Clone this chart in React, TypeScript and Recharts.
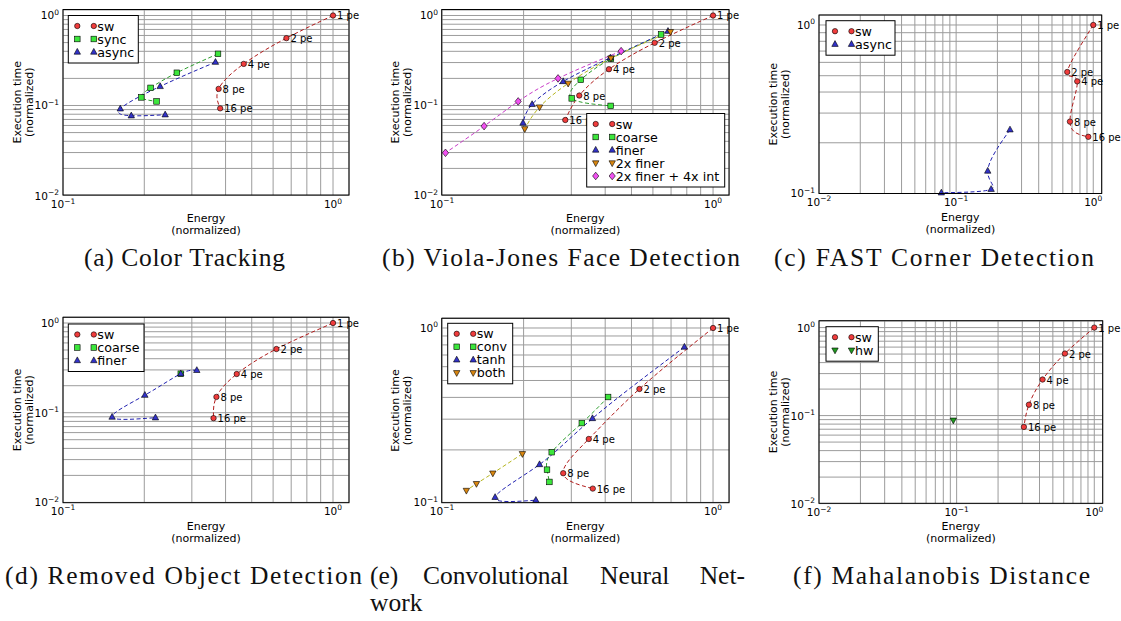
import React from 'react';
import { ComposedChart, Line, Scatter, XAxis, YAxis, CartesianGrid } from 'recharts';

// Points are [energy, execution time], both normalized to the 1-PE software run.
const PE_LABELS = ['1 pe', '2 pe', '4 pe', '8 pe', '16 pe'];

// (a) Color Tracking
const colorSw = [[1, 1], [0.672, 0.56], [0.467, 0.29], [0.377, 0.153], [0.382, 0.093]];
const colorSync = [[0.375, 0.375], [0.264, 0.231], [0.211, 0.157], [0.195, 0.123], [0.222, 0.111]];
const colorAsync = [[0.367, 0.303], [0.229, 0.163], [0.163, 0.092], [0.179, 0.077], [0.239, 0.079]];

// (b) Viola-Jones Face Detection
const violaSw = [[1, 1], [0.609, 0.497], [0.413, 0.253], [0.321, 0.129], [0.285, 0.069]];
const violaCoarse = [[0.643, 0.615], [0.42, 0.33], [0.325, 0.193], [0.301, 0.12], [0.419, 0.099]];
const violaFiner = [[0.682, 0.67], [0.418, 0.339], [0.28, 0.185], [0.215, 0.103], [0.199, 0.064]];
const viola2xFiner = [[0.696, 0.66], [0.42, 0.335], [0.292, 0.176], [0.229, 0.096], [0.202, 0.055]];
const viola2xFinerInt = [[0.458, 0.402], [0.268, 0.2], [0.191, 0.111], [0.143, 0.059], [0.103, 0.0298]];

// (c) FAST Corner Detection
const fastSw = [[1, 1], [0.646, 0.526], [0.764, 0.463], [0.676, 0.267], [0.92, 0.217]];
const fastAsync = [[0.247, 0.239], [0.17, 0.136], [0.18, 0.106], [0.078, 0.101]];

// (d) Removed Object Detection
const removedSw = [[1, 1], [0.617, 0.513], [0.44, 0.27], [0.37, 0.15], [0.361, 0.087]];
const removedCoarse = [[0.273, 0.272]];
const removedFiner = [[0.313, 0.297], [0.273, 0.272], [0.201, 0.157], [0.152, 0.0895], [0.22, 0.088]];

// (e) Convolutional Neural Network
const cnnSw = [[1, 1], [0.535, 0.447], [0.348, 0.231], [0.28, 0.147], [0.36, 0.12]];
const cnnConv = [[0.41, 0.402], [0.328, 0.285], [0.254, 0.194], [0.244, 0.154], [0.249, 0.131]];
const cnnTanh = [[0.784, 0.778], [0.359, 0.303], [0.229, 0.165], [0.157, 0.107], [0.222, 0.103]];
const cnnBoth = [[0.198, 0.19], [0.154, 0.147], [0.134, 0.128], [0.123, 0.117]];

// (f) Mahalanobis Distance
const mahaSw = [[1, 1], [0.612, 0.507], [0.421, 0.257], [0.335, 0.133], [0.308, 0.0743]];
const mahaHw = [[0.0946, 0.0885]];

// log grid positions
const TICKS_1DEC = [0.1, 0.2, 0.3, 0.4, 0.5, 0.6, 0.7, 0.8, 0.9, 1];
const TICKS_2DEC = [0.01, 0.02, 0.03, 0.04, 0.05, 0.06, 0.07, 0.08, 0.09, 0.1, 0.2, 0.3, 0.4, 0.5, 0.6, 0.7, 0.8, 0.9, 1];

const RED = { fill: '#f03c3c', line: '#b01a1a' };
const GREEN = { fill: '#3ce63c', line: '#2e9e2e' };
const BLUE = { fill: '#3232c8', line: '#2020b0' };
const ORANGE = { fill: '#d9860f', line: '#b5b51e' };
const MAGENTA = { fill: '#f050f0', line: '#c83cc8' };
const DARKGREEN = { fill: '#1f9a1f', line: '#1f9a1f' };

const SANS = 'DejaVu Sans';
const SERIF = 'Liberation Serif';

type Kind = 'o' | 's' | '^' | 'v' | 'D';
type Series = { name: string; pts: number[][]; kind: Kind; col: { fill: string; line: string }; labels?: string[] };

const sw = (pts: number[][]): Series => ({ name: 'sw', pts, kind: 'o', col: RED, labels: PE_LABELS });

const panels = [
  {
    plot: { l: 63, t: 9.5, r: 349, b: 195 }, xDomain: [0.1, 1.146], yDomain: [0.01, 1.151],
    xTicks: TICKS_1DEC, yTicks: TICKS_2DEC, legend: { l: 68.3, t: 15.5, w: 70 },
    series: [
      sw(colorSw),
      { name: 'sync', pts: colorSync, kind: 's', col: GREEN },
      { name: 'async', pts: colorAsync, kind: '^', col: BLUE },
    ] as Series[],
  },
  {
    plot: { l: 441.7, t: 9.5, r: 729, b: 195 }, xDomain: [0.1, 1.148], yDomain: [0.01, 1.151],
    xTicks: TICKS_1DEC, yTicks: TICKS_2DEC, legend: { l: 586.7, t: 113.5, w: 138 },
    series: [
      sw(violaSw),
      { name: 'coarse', pts: violaCoarse, kind: 's', col: GREEN },
      { name: 'finer', pts: violaFiner, kind: '^', col: BLUE },
      { name: '2x finer', pts: viola2xFiner, kind: 'v', col: ORANGE },
      { name: '2x finer + 4x int', pts: viola2xFinerInt, kind: 'D', col: MAGENTA },
    ] as Series[],
  },
  {
    plot: { l: 819, t: 15, r: 1101.7, b: 193.5 }, xDomain: [0.01, 1.152], yDomain: [0.1, 1.146],
    xTicks: TICKS_2DEC, yTicks: TICKS_1DEC, legend: { l: 826, t: 20.7, w: 69 },
    series: [
      sw(fastSw),
      { name: 'async', pts: fastAsync, kind: '^', col: BLUE },
    ] as Series[],
  },
  {
    plot: { l: 63, t: 317.3, r: 349, b: 502.7 }, xDomain: [0.1, 1.146], yDomain: [0.01, 1.167],
    xTicks: TICKS_1DEC, yTicks: TICKS_2DEC, legend: { l: 68.3, t: 324, w: 75.7 },
    series: [
      sw(removedSw),
      { name: 'coarse', pts: removedCoarse, kind: 's', col: GREEN },
      { name: 'finer', pts: removedFiner, kind: '^', col: BLUE },
    ] as Series[],
  },
  {
    plot: { l: 441.7, t: 318.3, r: 729, b: 502.7 }, xDomain: [0.1, 1.148], yDomain: [0.1, 1.141],
    xTicks: TICKS_1DEC, yTicks: TICKS_1DEC, legend: { l: 447.7, t: 323.3, w: 65 },
    series: [
      sw(cnnSw),
      { name: 'conv', pts: cnnConv, kind: 's', col: GREEN },
      { name: 'tanh', pts: cnnTanh, kind: '^', col: BLUE },
      { name: 'both', pts: cnnBoth, kind: 'v', col: ORANGE },
    ] as Series[],
  },
  {
    plot: { l: 819, t: 320.7, r: 1102.7, b: 503.3 }, xDomain: [0.01, 1.151], yDomain: [0.01, 1.188],
    xTicks: TICKS_2DEC, yTicks: TICKS_2DEC, legend: { l: 826, t: 326.7, w: 52.3 },
    series: [
      sw(mahaSw),
      { name: 'hw', pts: mahaHw, kind: 'v', col: DARKGREEN },
    ] as Series[],
  },
];

const YW = 34, MT = 12, MR = 34, XH = 22;

const Mark = ({ kind, x, y, fill }: { kind: Kind; x: number; y: number; fill: string }) => {
  const s = { fill, stroke: '#000', strokeWidth: 0.6 };
  switch (kind) {
    case 'o':
      return <circle cx={x} cy={y} r={2.7} {...s} />;
    case 's':
      return <rect x={x - 2.8} y={y - 2.8} width={5.6} height={5.6} {...s} />;
    case '^':
      return <polygon points={`${x},${y - 3.6} ${x - 3.2},${y + 2.2} ${x + 3.2},${y + 2.2}`} {...s} />;
    case 'v':
      return <polygon points={`${x},${y + 3.6} ${x - 3.2},${y - 2.2} ${x + 3.2},${y - 2.2}`} {...s} />;
    default:
      return <polygon points={`${x},${y - 3.8} ${x + 3.1},${y} ${x},${y + 3.8} ${x - 3.1},${y}`} {...s} />;
  }
};

const expOf = (v: number) => {
  const e = Math.round(Math.log10(v));
  return Math.abs(Math.log10(v) - e) < 1e-6 ? e : null;
};

const PowLabel = ({ x, y, anchor, e }: { x: number; y: number; anchor: string; e: number }) => (
  <text x={x} y={y} textAnchor={anchor} fontFamily={SANS} fontSize={10.5} fill="#000">
    10
    <tspan dy={-4.5} fontSize={7.5}>{e < 0 ? `\u2212${-e}` : `${e}`}</tspan>
  </text>
);

const Panel = ({ cfg }: { cfg: (typeof panels)[number] }) => {
  const { plot, xDomain, yDomain, xTicks, yTicks, series } = cfg;
  const w = plot.r - plot.l;
  const h = plot.b - plot.t;

  const rows = (s: Series) => s.pts.map((p, i) => ({ x: p[0], y: p[1], label: s.labels ? s.labels[i] : undefined }));

  return (
    <div style={{ position: 'absolute', left: plot.l - YW, top: plot.t - MT }}>
      <ComposedChart width={YW + w + MR} height={MT + h + XH} margin={{ top: MT, right: MR, bottom: 0, left: 0 }}>
        <CartesianGrid stroke="#9c9c9c" strokeWidth={1} />
        <XAxis
          dataKey="x" type="number" scale="log" domain={xDomain} ticks={xTicks} interval={0}
          height={XH} axisLine={false} tickLine={false}
          tick={(p: any) => {
            const e = expOf(p.payload.value);
            return e === null ? <g /> : <PowLabel x={p.x} y={MT + h + 12.5} anchor="middle" e={e} />;
          }}
        />
        <YAxis
          dataKey="y" type="number" scale="log" domain={yDomain} ticks={yTicks} interval={0}
          width={YW} axisLine={false} tickLine={false}
          tick={(p: any) => {
            const e = expOf(p.payload.value);
            return e === null ? <g /> : <PowLabel x={YW - 4} y={p.y + 4} anchor="end" e={e} />;
          }}
        />
        {series.filter((s) => s.pts.length > 1).map((s) => (
          <Line
            key={'line-' + s.name}
            data={rows(s)}
            dataKey="y"
            type="natural"
            stroke={s.col.line}
            strokeWidth={1}
            strokeDasharray="4 2.5"
            dot={false}
            activeDot={false}
            isAnimationActive={false}
          />
        ))}
        {series.map((s) => (
          <Scatter
            key={'pts-' + s.name}
            data={rows(s)}
            isAnimationActive={false}
            shape={(p: any) => (
              <g>
                <Mark kind={s.kind} x={p.cx} y={p.cy} fill={s.col.fill} />
                {p.payload.label && (
                  <text x={p.cx + 4} y={p.cy + 4} fontFamily={SANS} fontSize={10} fill="#000">
                    {p.payload.label}
                  </text>
                )}
              </g>
            )}
          />
        ))}
      </ComposedChart>
    </div>
  );
};

// frame, axis titles and legend box drawn above each chart
const Decor = ({ cfg }: { cfg: (typeof panels)[number] }) => {
  const { plot, legend, series } = cfg;
  const cx = (plot.l + plot.r) / 2;
  const cy = (plot.t + plot.b) / 2;
  const lh = 21.5 + (series.length - 1) * 13;
  return (
    <g fontFamily={SANS} fill="#000">
      <rect x={plot.l} y={plot.t} width={plot.r - plot.l} height={plot.b - plot.t} fill="none" stroke="#000" strokeWidth={1} />
      <text x={cx} y={plot.b + 27} textAnchor="middle" fontSize={11}>Energy</text>
      <text x={cx} y={plot.b + 39} textAnchor="middle" fontSize={11}>(normalized)</text>
      <text transform={`translate(${plot.l - 42.5},${cy}) rotate(-90)`} textAnchor="middle" fontSize={11}>Execution time</text>
      <text transform={`translate(${plot.l - 30.5},${cy}) rotate(-90)`} textAnchor="middle" fontSize={11}>(normalized)</text>
      <rect x={legend.l} y={legend.t} width={legend.w} height={lh} fill="#fff" stroke="#000" strokeWidth={1} />
      {series.map((s, i) => {
        const ry = legend.t + 10.5 + i * 13;
        return (
          <g key={s.name}>
            <Mark kind={s.kind} x={legend.l + 9} y={ry} fill={s.col.fill} />
            <Mark kind={s.kind} x={legend.l + 25.5} y={ry} fill={s.col.fill} />
            <text x={legend.l + 29} y={ry + 4.5} fontSize={12.7}>{s.name}</text>
          </g>
        );
      })}
    </g>
  );
};

const App = () => (
  <div style={{ position: 'absolute', left: 0, top: 0, width: 1121, height: 621, background: '#fff', overflow: 'hidden' }}>
    {panels.map((p, i) => <Panel key={i} cfg={p} />)}
    <svg width={1121} height={621} style={{ position: 'absolute', left: 0, top: 0, pointerEvents: 'none' }}>
      {panels.map((p, i) => <Decor key={i} cfg={p} />)}
      <g fontFamily={SERIF} fontSize={25.5} fill="#111">
        <text x={184.5} y={266} textAnchor="middle" textLength={201} lengthAdjust="spacing">(a) Color Tracking</text>
        <text x={561} y={266} textAnchor="middle" textLength={358} lengthAdjust="spacing">(b) Viola-Jones Face Detection</text>
        <text x={934} y={266} textAnchor="middle" textLength={320} lengthAdjust="spacing">(c) FAST Corner Detection</text>
        <text x={183.5} y={583.5} textAnchor="middle" textLength={357} lengthAdjust="spacing">(d) Removed Object Detection</text>
        <text x={370} y={583.5}>(e)</text>
        <text x={423} y={583.5}>Convolutional</text>
        <text x={600} y={583.5}>Neural</text>
        <text x={745} y={583.5} textAnchor="end">Net-</text>
        <text x={370} y={611}>work</text>
        <text x={941.5} y={583.5} textAnchor="middle" textLength={297} lengthAdjust="spacing">(f) Mahalanobis Distance</text>
      </g>
    </svg>
  </div>
);

export default App;
